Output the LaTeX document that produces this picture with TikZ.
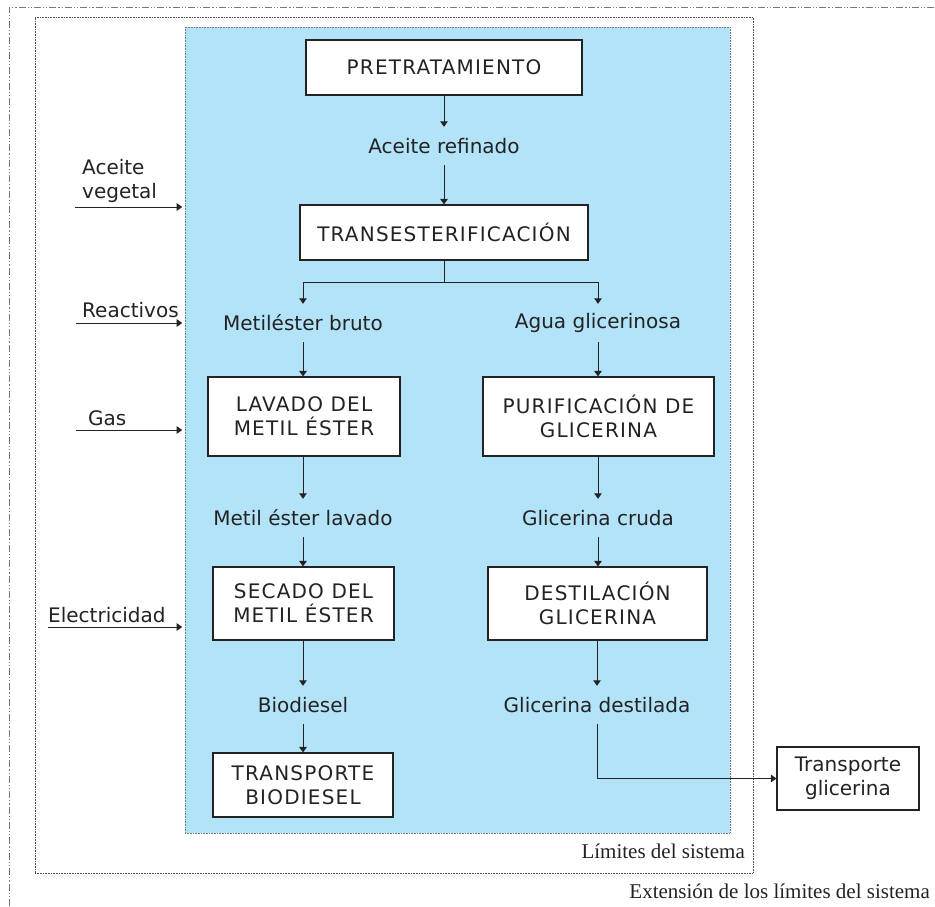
\documentclass[tikz,border=0pt]{standalone}
\usepackage{fontspec}
\setmainfont{DejaVu Sans}
\newfontfamily\serifx{Liberation Serif}
\newfontfamily\capsfont[LetterSpace=6]{DejaVu Sans}
\usetikzlibrary{arrows.meta}
\definecolor{sysblue}{RGB}{179,227,248}
\definecolor{ink}{RGB}{35,35,35}
\definecolor{framegray}{RGB}{120,120,120}
\tikzset{
  procbox/.style={draw=ink, line width=1.1pt, fill=white, align=center, inner sep=0pt,
    font=\capsfont\fontsize{20}{24}\selectfont, text=ink},
  lowbox/.style={procbox, font=\fontsize{20}{24}\selectfont},
  flowlabel/.style={inner sep=0pt, minimum height=38pt, font=\fontsize{20}{24}\selectfont, text=ink},
  sidelabel/.style={inner sep=0pt, font=\fontsize{20}{24}\selectfont, text=ink, align=left},
  flow/.style={draw=ink, line width=0.9pt, -{Triangle[length=5.5pt,width=7.5pt]}},
  plainline/.style={draw=ink, line width=0.9pt},
  seriflabel/.style={inner sep=0pt, font=\serifx\fontsize{21}{24}\selectfont, text=ink}
}
\begin{document}
\begin{tikzpicture}[x=1pt,y=-1pt]
\useasboundingbox (0,0) rectangle (935,906);
% outer extension frame
\draw[framegray, line width=0.8pt, dash pattern=on 7pt off 2pt on 1.2pt off 2pt on 1.2pt off 2pt]
  (9,906) -- (9,7) -- (935,7);
% system limits frame
\node[draw=ink!80, line width=0.6pt, densely dotted, minimum width=718pt, minimum height=856pt, inner sep=0pt]
  (lim) at (394,445) {};
% blue system area
\node[draw=framegray, line width=0.6pt, densely dotted, fill=sysblue, minimum width=545pt, minimum height=806pt, inner sep=0pt]
  (sys) at (457.5,430) {};
% process boxes
\node[procbox, minimum width=276pt, minimum height=55pt] (pre) at (444,67.5) {PRETRATAMIENTO};
\node[flowlabel] (ar) at (444,146) {Aceite refinado};
\node[procbox, minimum width=288pt, minimum height=55pt] (trans) at (444,232.5) {TRANSESTERIFICACIÓN};
\coordinate (split) at (444,282);
\node[flowlabel] (meb) at (303,323) {Metiléster bruto};
\node[flowlabel] (agua) at (598,323) {Agua glicerinosa};
\node[procbox, minimum width=192pt, minimum height=79pt] (lav) at (304,416.5) {LAVADO DEL\\METIL ÉSTER};
\node[procbox, minimum width=231pt, minimum height=79pt] (pur) at (598.5,416.5) {PURIFICACIÓN DE\\GLICERINA};
\node[flowlabel] (mel) at (303,518) {Metil éster lavado};
\node[flowlabel] (gc) at (598,518) {Glicerina cruda};
\node[procbox, minimum width=181pt, minimum height=73pt] (sec) at (303.5,603.5) {SECADO DEL\\METIL ÉSTER};
\node[procbox, minimum width=219pt, minimum height=73pt] (des) at (597.5,603.5) {DESTILACIÓN\\GLICERINA};
\node[flowlabel] (bio) at (303,705) {Biodiesel};
\node[flowlabel] (gd) at (597,705) {Glicerina destilada};
\node[procbox, minimum width=180pt, minimum height=64pt] (tb) at (303,785) {TRANSPORTE\\BIODIESEL};
\node[lowbox, minimum width=142pt, minimum height=63pt] (tg) at (848,778.5) {Transporte\\glicerina};
% flows
\draw[flow] (pre.south -| ar) -- (ar.north);
\draw[flow] (ar.south) -- (ar.south |- trans.north);
\draw[plainline] (trans.south) -- (split);
\draw[flow] (split) -| (meb.north);
\draw[flow] (split) -| (agua.north);
\draw[flow] (meb.south) -- (meb.south |- lav.north);
\draw[flow] (agua.south) -- (agua.south |- pur.north);
\draw[flow] (lav.south -| mel) -- (mel.north);
\draw[flow] (pur.south -| gc) -- (gc.north);
\draw[flow] (mel.south) -- (mel.south |- sec.north);
\draw[flow] (gc.south) -- (gc.south |- des.north);
\draw[flow] (sec.south -| bio) -- (bio.north);
\draw[flow] (des.south -| gd) -- (gd.north);
\draw[flow] (bio.south) -- (bio.south |- tb.north);
\draw[flow] (gd.south) |- (tg.west);
% inputs
\coordinate (av0) at (75,207);
\coordinate (re0) at (76,323);
\coordinate (ga0) at (76,430);
\coordinate (el0) at (48,627);
\node[sidelabel, anchor=south west] (avl) at (82,203) {Aceite\\vegetal};
\node[sidelabel, anchor=base west] (rel) at (82,317) {Reactivos};
\node[sidelabel, anchor=base west] (gal) at (88,425) {Gas};
\node[sidelabel, anchor=base west] (ell) at (48,622) {Electricidad};
\draw[flow, shorten >=2.5pt] (av0) -- (av0 -| sys.west);
\draw[flow, shorten >=2.5pt] (re0) -- (re0 -| sys.west);
\draw[flow, shorten >=2.5pt] (ga0) -- (ga0 -| sys.west);
\draw[flow, shorten >=2.5pt] (el0) -- (el0 -| sys.west);
% frame labels
\node[seriflabel, anchor=base east] (liml) at (745,858) {Límites del sistema};
\node[seriflabel, anchor=base east] (extl) at (930,898) {Extensión de los límites del sistema};
\end{tikzpicture}
\end{document}
